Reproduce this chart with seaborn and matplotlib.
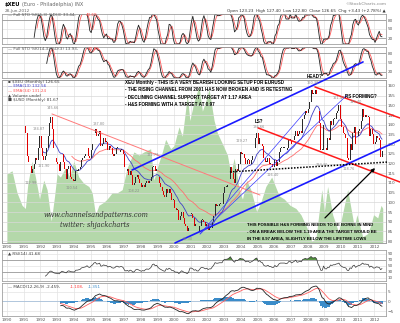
import numpy as np
import pandas as pd
import matplotlib
matplotlib.use("Agg")
import matplotlib.pyplot as plt
import seaborn as sns
from matplotlib import font_manager

# ---------------- data ----------------
xeu_start_year, xeu_start_month = 1991, 2
xeu_first_open = 139.5
xeu_1991 = [136, 124, 121, 119, 115, 117, 120, 123, 122, 128, 134]
xeu_1992 = [128, 124, 122, 124, 128, 134, 141, 144, 138, 128, 123, 121]
xeu_1993 = [120, 116, 121, 125, 121, 117, 112, 117, 119, 113, 112, 111]
xeu_1994 = [111, 116, 116, 117, 118, 122, 123, 124, 125, 128, 124, 123]
xeu_1995 = [127, 130, 136, 138, 134, 135, 137, 129, 130, 133, 131, 131]
xeu_1996 = [127, 129, 128, 125, 124, 125, 128, 128, 126, 127, 127, 125]
xeu_1997 = [118, 116, 117, 114, 116, 114, 109, 110, 113, 114, 112, 110]
xeu_1998 = [108, 109, 108, 110, 111, 110, 111, 113, 118, 119, 116, 117]
xeu_1999 = [113, 110, 108, 106, 104, 103, 107, 105, 107, 105, 101, 101]
xeu_2000 = [97, 96, 96, 91, 93, 95, 92, 89, 88, 85, 87, 94]
xeu_2001 = [94, 92, 88, 89, 85, 85, 88, 91, 91, 90, 88, 89]
xeu_2002 = [86, 87, 87, 90, 93, 99, 98, 98, 99, 99, 99, 105]
xeu_2003 = [108, 108, 109, 112, 118, 115, 112, 110, 117, 116, 120, 126]
xeu_2004 = [125, 125, 123, 120, 122, 122, 120, 122, 124, 128, 133, 136]
xeu_2005 = [130, 133, 130, 129, 123, 121, 121, 123, 120, 120, 118, 118]
xeu_2006 = [122, 119, 121, 126, 128, 128, 128, 128, 127, 128, 132, 132]
xeu_2007 = [130, 132, 134, 137, 134, 135, 137, 136, 143, 145, 147, 146]
xeu_2008 = [148, 152, 158, 156, 156, 158, 156, 147, 141, 127, 127, 140]
xeu_2009 = [128, 127, 133, 132, 142, 140, 143, 143, 146, 147, 150, 143]
xeu_2010 = [139, 136, 135, 133, 123, 122, 130, 127, 136, 139, 130, 134]
xeu_2011 = [137, 138, 142, 148, 144, 145, 144, 144, 134, 138, 135, 130]
xeu_2012 = [131, 134, 133, 132, 123.23, 126.65]

usd_t = [1990.0, 1990.3, 1990.6, 1990.9, 1991.1, 1991.25, 1991.5, 1991.7, 1991.95,
         1992.2, 1992.4, 1992.65, 1992.85, 1993.0, 1993.2, 1993.5, 1993.75, 1994.0,
         1994.3, 1994.6, 1994.9, 1995.1, 1995.3, 1995.5, 1995.8, 1996.0, 1996.3,
         1996.6, 1996.9, 1997.2, 1997.6, 1997.9, 1998.2, 1998.6, 1998.8, 1999.0,
         1999.3, 1999.5, 1999.8, 2000.0, 2000.3, 2000.5, 2000.8, 2000.95, 2001.2,
         2001.5, 2001.7, 2001.95, 2002.1, 2002.4, 2002.6, 2002.95, 2003.2, 2003.4,
         2003.6, 2003.95, 2004.1, 2004.35, 2004.6, 2004.95, 2005.2, 2005.5, 2005.85,
         2006.0, 2006.3, 2006.6, 2006.95, 2007.3, 2007.6, 2007.95, 2008.25, 2008.5,
         2008.85, 2009.0, 2009.2, 2009.5, 2009.85, 2010.0, 2010.4, 2010.6, 2010.8,
         2010.95, 2011.3, 2011.6, 2011.8, 2011.95, 2012.2, 2012.4, 2012.5]
usd_v = [93, 94, 87, 83, 82, 90, 97, 92, 85,
         91, 88, 78, 86, 93, 92, 95, 92, 97,
         92, 90, 89, 87, 80, 83, 84, 85, 87,
         87, 88, 95, 100, 99, 100, 101, 91, 95,
         100, 104, 101, 102, 108, 105, 118, 110, 116,
         121, 113, 117, 120, 110, 106, 102, 99, 93,
         98, 87, 85, 91, 88, 81, 84, 89, 92,
         90, 86, 85, 83, 82, 80, 76, 71.5, 72.5,
         88, 81, 89, 80, 74.5, 78, 88, 82, 76,
         80, 73, 74, 77, 80, 79, 83, 82]

year_labels = [str(y) for y in range(1990, 2013)]

# trend lines drawn on the price chart: (year, price) end points
red_long = ([1992.69, 2005.15], [145.6, 103.8])
red_upper = ([2008.44, 2013.53], [159.5, 143.5])
red_lower = ([2005.03, 2013.53], [138.4, 110.5])
blue_upper = ([1997.49, 2011.32], [116.7, 172.4])
blue_lower = ([2000.06, 2013.53], [79.1, 132.2])
blue_thin1 = ([2001.56, 2010.36], [83.7, 155.3])
blue_thin2 = ([2001.56, 2007.84], [83.7, 146.6])
neckline = ([2003.35, 2012.81], [115.7, 120.8])
arrow_pts = ([2009.04, 2012.04], [92.0, 117.7])

price_labels = [("134.87", 1991.9, 138.0), ("112.98", 1991.45, 110.0), ("145.66", 1992.75, 148.5),
                ("121.90", 1992.2, 119.0), ("110.54", 1993.9, 107.5), ("137.80", 1995.5, 140.5),
                ("108.22", 1997.6, 106.0), ("121.79", 1998.75, 124.5), ("82.30", 2000.8, 81.0),
                ("129.27", 2004.05, 131.5), ("116.40", 2005.9, 114.0), ("123.30", 2008.85, 119.5),
                ("151.43", 2009.85, 153.8), ("118.76", 2010.45, 117.0)]

# ---------------- derived series ----------------
closes = np.array(xeu_1991 + xeu_1992 + xeu_1993 + xeu_1994 + xeu_1995 + xeu_1996 +
                  xeu_1997 + xeu_1998 + xeu_1999 + xeu_2000 + xeu_2001 + xeu_2002 +
                  xeu_2003 + xeu_2004 + xeu_2005 + xeu_2006 + xeu_2007 + xeu_2008 +
                  xeu_2009 + xeu_2010 + xeu_2011 + xeu_2012, dtype=float)
n = len(closes)
opens = np.concatenate([[xeu_first_open], closes[:-1]])
t = xeu_start_year + (xeu_start_month - 1 + np.arange(n) + 0.5) / 12.0
s = pd.Series(closes)
hi = pd.Series(np.maximum(opens, closes))
lo = pd.Series(np.minimum(opens, closes))

ema13 = s.ewm(span=13, adjust=False).mean().to_numpy()
ema34 = s.ewm(span=34, adjust=False).mean().to_numpy()


def full_sto(length):
    hh = hi.rolling(length).max()
    ll = lo.rolling(length).min()
    fast = 100 * (s - ll) / (hh - ll)
    k = fast.rolling(3).mean()
    d = k.rolling(3).mean()
    return k.to_numpy(), d.to_numpy()


k5, d5 = full_sto(5)
k14, d14 = full_sto(14)

delta = s.diff()
au = delta.clip(lower=0).ewm(alpha=1 / 14, adjust=False, min_periods=14).mean()
ad = (-delta.clip(upper=0)).ewm(alpha=1 / 14, adjust=False, min_periods=14).mean()
rsi = (100 - 100 / (1 + au / ad)).to_numpy()

macd = (s.ewm(span=12, adjust=False).mean() - s.ewm(span=26, adjust=False).mean())
signal = macd.ewm(span=9, adjust=False).mean()
hist = (macd - signal).to_numpy()
macd = macd.to_numpy()
signal = signal.to_numpy()

# ---------------- figure ----------------
sns.set_theme(style="white")
plt.rcParams['font.family'] = ['DejaVu Sans']
names = {f.name for f in font_manager.fontManager.ttflist}
ANN_FONT = 'Liberation Sans' if 'Liberation Sans' in names else 'DejaVu Sans'

W, H = 400, 323
fig = plt.figure(figsize=(4.0, 3.23), dpi=100)
fig.patch.set_facecolor('white')


def rect(top, bottom, left=2, right=386):
    return [left / W, 1 - bottom / H, (right - left) / W, (bottom - top) / H]


def P(x, y):
    return (x / W, 1 - y / H)


T0, T1 = 1989.70, 2012.695
GRID = '#e3e3e3'
SPINE = '#a0a0a0'
TICKC = '#555555'

ax1 = fig.add_axes(rect(14, 44))
ax2 = fig.add_axes(rect(47, 78))
axv = fig.add_axes(rect(80, 243))
axp = axv.twinx()
axr = fig.add_axes(rect(250, 281))
axm = fig.add_axes(rect(283, 316))

for ax in (ax1, ax2, axv, axr, axm):
    ax.set_xlim(T0, T1)
    ax.set_facecolor('white')
    ax.set_xticks(range(1990, 2013))
    ax.grid(True, axis='x', color=GRID, lw=0.5)
    ax.tick_params(axis='both', length=0, labelsize=3.0, colors=TICKC, pad=1)
    ax.set_xticklabels([])
for ax in (ax1, ax2, axv, axp, axr, axm):
    for sp in ax.spines.values():
        sp.set_color(SPINE)
        sp.set_linewidth(0.6)
for ax in (ax1, ax2, axr, axm):
    ax.yaxis.tick_right()
    ax.grid(True, axis='y', color=GRID, lw=0.5)

# ---- stochastic panels ----
for ax, k, d in ((ax1, k5, d5), (ax2, k14, d14)):
    ax.set_ylim(0, 100)
    ax.set_yticks([20, 50, 80])
    ax.axhline(80, color='#8a8a8a', lw=0.5)
    ax.axhline(20, color='#8a8a8a', lw=0.5)
    m = ~np.isnan(d)
    mk = ~np.isnan(k)
    sns.lineplot(x=t[m], y=d[m], ax=ax, color='#ff5a5a', linewidth=0.6, legend=False)
    sns.lineplot(x=t[mk], y=k[mk], ax=ax, color='#222222', linewidth=0.6, legend=False)
    ax.set_xlabel('')
    ax.set_ylabel('')

# ---- main price panel ----
axv.set_ylim(71, 122.9)
axv.set_yticks([])
axv.fill_between(usd_t, usd_v, 60, color='#b4d8aa', lw=0, zorder=1)
axp.set_zorder(axv.get_zorder() + 1)
axp.patch.set_visible(False)
axp.set_ylim(79.07, 163.09)
axp.set_yticks(range(80, 161, 5))
axp.tick_params(axis='y', length=0, labelsize=3.0, colors=TICKC, pad=1)
axp.grid(True, axis='y', color='#d8d8d8', lw=0.5)
axp.set_xlim(T0, T1)

up = closes >= opens
body = np.maximum(np.abs(closes - opens), 0.5)
axp.bar(t[up], body[up], bottom=np.minimum(opens, closes)[up], width=0.055,
        color='#2a2a2a', lw=0, zorder=3)
axp.bar(t[~up], body[~up], bottom=np.minimum(opens, closes)[~up], width=0.055,
        color='#e00000', lw=0, zorder=3)
sns.lineplot(x=t[33:], y=ema34[33:], ax=axp, color='#ff6f6f', linewidth=0.6, legend=False)
sns.lineplot(x=t[12:], y=ema13[12:], ax=axp, color='#4040c8', linewidth=0.6, legend=False)
axp.set_ylabel('')
axv.set_ylabel('')

# trend lines
axp.plot(*red_long, color='#ff7a7a', lw=0.7, clip_on=False, zorder=4)
axp.plot(*red_upper, color='#ff1a1a', lw=1.1, clip_on=False, zorder=4)
axp.plot(*red_lower, color='#ff1a1a', lw=1.1, clip_on=False, zorder=4)
axp.plot(*blue_upper, color='#1a1aff', lw=1.2, clip_on=False, zorder=4)
axp.plot(*blue_lower, color='#1a1aff', lw=1.2, clip_on=False, zorder=4)
axp.plot(*blue_thin1, color='#3a3aff', lw=0.5, clip_on=False, zorder=4)
axp.plot(*blue_thin2, color='#3a3aff', lw=0.5, clip_on=False, zorder=4)
axp.plot(*neckline, color='black', lw=1.1, ls=(0, (1, 1)), clip_on=False, zorder=4)
axp.annotate('', xy=(arrow_pts[0][1], arrow_pts[1][1]), xytext=(arrow_pts[0][0], arrow_pts[1][0]),
             arrowprops=dict(arrowstyle='-|>', color='black', lw=0.9,
                             mutation_scale=5, shrinkA=0, shrinkB=0), zorder=5)

for txt, tx, py in price_labels:
    axp.text(tx, py, txt, fontsize=2.5, color='#8a8a8a', ha='center', va='center',
             clip_on=False, zorder=5)

axv.set_xticklabels(year_labels)
axv.tick_params(axis='x', labelsize=3.0, colors=TICKC, pad=1.2)

# ---- RSI ----
axr.set_ylim(0, 103)
axr.set_yticks([10, 30, 50, 70, 90])
axr.axhline(70, color='#8a8a8a', lw=0.5)
axr.axhline(30, color='#8a8a8a', lw=0.5)
mr = ~np.isnan(rsi)
axr.fill_between(t[mr], 70, rsi[mr], where=rsi[mr] > 70, color='#4f8f3a', lw=0, interpolate=True)
sns.lineplot(x=t[mr], y=rsi[mr], ax=axr, color='#333333', linewidth=0.5, legend=False)
axr.set_ylabel('')

# ---- MACD ----
axm.set_ylim(-7.5, 9.5)
axm.set_yticks([-5, 0, 5])
mm = np.arange(n) >= 25
axm.bar(t[mm], hist[mm], width=1 / 12, color='#3b8cc9', lw=0, zorder=2)
axm.axhline(0, color='#9ab8d8', lw=0.5, zorder=1)
sns.lineplot(x=t[mm], y=signal[mm], ax=axm, color='#ff6060', linewidth=0.6, legend=False)
sns.lineplot(x=t[mm], y=macd[mm], ax=axm, color='#222222', linewidth=0.6, legend=False)
axm.set_ylabel('')
axm.set_xticklabels(year_labels)
axm.tick_params(axis='x', labelsize=3.0, colors=TICKC, pad=1.2)

# ---------------- texts ----------------
fig.text(*P(5, 4.5), "$XEU", fontsize=3.8, fontweight='bold', color='black', va='center')
fig.text(*P(22, 4.5), "(Euro - Philadelphia) INX", fontsize=3.6, color='#666666', va='center')
fig.text(*P(5, 11), "28-Jun-2012", fontsize=3.0, color='#666666', va='center')
fig.text(*P(386, 4), "\u00a9StockCharts.com", fontsize=3.2, color='#888888', va='center', ha='right')
fig.text(*P(386, 11), "Open 123.23  High 127.40  Low 122.80  Close 126.65  Chg +3.43 (+2.78%) \u25b2",
         fontsize=3.0, color='#333333', va='center', ha='right')

fig.text(*P(8, 15.5), "\u2014 Full STO %K(5,3) %D(3) 33.44,", fontsize=3.0, color='#555555', va='center')
fig.text(*P(86, 15.5), "43.69", fontsize=3.0, color='#ff4040', va='center')
fig.text(*P(8, 48.5), "\u2014 Full STO %K(14,3) %D(3) 13.93,", fontsize=3.0, color='#555555', va='center')
fig.text(*P(88, 48.5), "20.55", fontsize=3.0, color='#ff4040', va='center')

fig.text(*P(8, 81.5), "\u25aa $XEU (Monthly) 126.65", fontsize=3.0, color='#444444', va='center')
fig.text(*P(8, 86), "\u2014 EMA(13) 132.56", fontsize=3.0, color='#4040c8', va='center')
fig.text(*P(8, 90.5), "\u2014 EMA(34) 131.24", fontsize=3.0, color='#ff5050', va='center')
fig.text(*P(8, 95), "\u25b2 Volume undef", fontsize=3.0, color='#444444', va='center')
fig.text(*P(8, 99.5), "\u25a0 $USD (Monthly) 81.67", fontsize=3.0, color='#444444', va='center')

fig.text(*P(8, 253.5), "\u25b2 RSI(14) 41.68", fontsize=3.0, color='#444444', va='center')
fig.text(*P(8, 286.5), "\u2014 MACD(12,26,9) -2.459,", fontsize=3.0, color='#444444', va='center')
fig.text(*P(70, 286.5), "-1.108,", fontsize=3.0, color='#ff4040', va='center')
fig.text(*P(88, 286.5), "-1.351", fontsize=3.0, color='#3b8cc9', va='center')

bold_kw = dict(fontsize=3.3, color='black', va='center', family=ANN_FONT, fontweight='bold')
bold_small = dict(bold_kw, fontsize=3.1)
top_lines = ["XEU Monthly - THIS IS A VERY BEARISH LOOKING SETUP FOR EURUSD",
             "- THE RISING CHANNEL FROM 2001 HAS NOW BROKEN AND IS RETESTING",
             "- DECLINING CHANNEL SUPPORT TARGET AT 1.17 AREA",
             "- H&S FORMING WITH A TARGET AT 0.97"]
for i, line in enumerate(top_lines):
    fig.text(*P(125, 82.5 + 7.4 * i), line, **bold_kw)
bottom_lines = ["THIS POSSIBLE H&S FORMING NEEDS TO BE BORNE IN MIND",
                "- ON A BREAK BELOW THE 1.19 AREA THE TARGET WOULD BE",
                "IN THE 0.97 AREA, SLIGHTLY BELOW THE LIFETIME LOWS"]
for i, line in enumerate(bottom_lines):
    fig.text(*P(247, 225 + 6.7 * i), line, **bold_small)

fig.text(*P(307, 77), "HEAD?", **bold_kw)
fig.text(*P(307, 82.5), "160.38", fontsize=2.5, color='#8a8a8a', va='center')
fig.text(*P(255, 121.5), "LS?", **bold_kw)
fig.text(*P(253, 127), "136.66", fontsize=2.5, color='#8a8a8a', va='center')
fig.text(*P(345, 97), "RS FORMING?", **bold_kw)
fig.text(*P(350, 102), "149.40", fontsize=2.5, color='#8a8a8a', va='center')

fig.text(*P(96, 215), "www.channelsandpatterns.com", fontsize=4.8, color='#333333',
         ha='center', va='center', family='DejaVu Serif', style='italic')
fig.text(*P(95, 225), "twitter: shjackcharts", fontsize=4.8, color='#333333',
         ha='center', va='center', family='DejaVu Serif', style='italic')

fig.savefig("out.png", dpi=100, facecolor='white')
